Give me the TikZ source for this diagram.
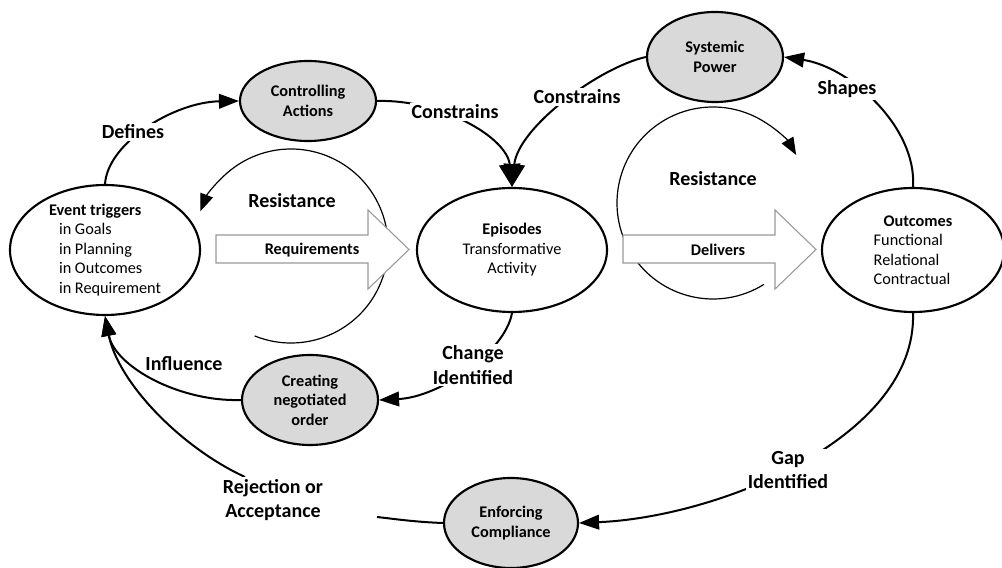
\documentclass[tikz,border=0pt]{standalone}
\usepackage{fontspec}
\setmainfont{Carlito}
\usetikzlibrary{shapes.geometric,arrows.meta}
\definecolor{blobgray}{RGB}{217,217,217}

\begin{document}
\begin{tikzpicture}[x=0.75pt,y=0.75pt,
  blob/.style={ellipse,draw,line width=1.6pt,inner sep=0pt,align=center,font=\fontsize{12.2}{14.6}\selectfont},
  grayblob/.style={blob,fill=blobgray,font=\bfseries\fontsize{12.2}{14.6}\selectfont},
  lbl/.style={fill=white,inner sep=1.5pt,align=center,font=\bfseries\fontsize{15}{18.5}\selectfont},
  conn/.style={line width=1.5pt,-{Triangle[length=15pt,width=11pt]}},
  bigconn/.style={line width=1.5pt,-{Triangle[length=17pt,width=16pt]}},
  resist/.style={line width=0.9pt,-{Triangle[length=13pt,width=10pt]}},
  block/.style={draw=gray!80,line width=0.8pt,fill=white}]

\useasboundingbox (0,0) rectangle (1002,567);

%% resistance loops
\coordinate (resL) at (291,321);
\coordinate (resR) at (713,364);
\draw[resist] (resL) ++(-112:97) arc[start angle=-112,end angle=159,radius=97];
\draw[resist] (resR) ++(-58:96) arc[start angle=-58,end angle=-330,radius=96];

%% block arrows
\draw[block] (216,304) -- (368,304) -- (368,278) -- (409,317.5) -- (368,357) -- (368,332) -- (216,332) -- cycle;
\node[font=\bfseries\fontsize{12.2}{14.6}\selectfont] (req) at (312,317) {Requirements};
\draw[block] (623,304) -- (775,304) -- (775,278) -- (816,317.5) -- (775,357) -- (775,332) -- (623,332) -- cycle;
\node[font=\bfseries\fontsize{12.2}{14.6}\selectfont] (del) at (718,317) {Delivers};

%% main ellipses
\node[blob,align=left,minimum width=142.5pt,minimum height=93pt] (evt) at (105,317)
  {\textbf{Event triggers}\\\hspace*{7.5pt}in Goals\\\hspace*{7.5pt}in Planning\\\hspace*{7.5pt}in Outcomes\\\hspace*{7.5pt}in Requirement};
\node[blob,minimum width=142.5pt,minimum height=93pt] (epi) at (512,317)
  {\textbf{Episodes}\\Transformative\\Activity};
\node[blob,align=left,minimum width=136.5pt,minimum height=93pt] (out) at (913,317)
  {\hspace*{7.5pt}\textbf{Outcomes}\\Functional\\Relational\\Contractual};

%% grey ellipses
\node[grayblob,minimum width=102pt,minimum height=60pt] (ctrl) at (308,466) {Controlling\\Actions};
\node[grayblob,minimum width=102pt,minimum height=67.5pt] (sys) at (715,510) {Systemic\\Power};
\node[grayblob,minimum width=102pt,minimum height=67.5pt] (neg) at (310,167) {Creating\\negotiated\\order};
\node[grayblob,minimum width=100.5pt,minimum height=67.5pt] (enf) at (511,44) {Enforcing\\Compliance};

%% connectors
\draw[conn] (evt.north) .. controls (108,425) and (175,465) .. (ctrl.west);
\draw[bigconn] (ctrl.east) .. controls (440,468) and (507,430) .. (epi.north);
\draw[bigconn] (sys.west) .. controls (600,500) and (518,440) .. (epi.north);
\draw[conn] (out.north) .. controls (917,440) and (850,500) .. (sys.east);
\draw[conn] (epi.south) .. controls (505,215) and (440,170) .. (neg.east);
\draw[conn] (neg.west) .. controls (180,165) and (115,200) .. (evt.south);
\draw[conn] (out.south) .. controls (917,130) and (720,50) .. (enf.east);

%% rejection path, broken at its label
\coordinate (rejR) at (377,50);
\coordinate (rejL) at (245,90);
\draw[line width=1.5pt] (enf.west) .. controls (415,45) and (395,48) .. (rejR);
\draw[conn] (rejL) .. controls (180,120) and (118,185) .. (evt.south);

%% labels
\node[lbl] (defines) at (133,435) {Defines};
\node[lbl] (conL) at (455,455) {Constrains};
\node[lbl] (conR) at (577,470) {Constrains};
\node[lbl] (shapes) at (847,478) {Shapes};
\node[lbl,fill=none] (resistL) at (292,366) {Resistance};
\node[lbl,fill=none] (resistR) at (713,388) {Resistance};
\node[lbl] (change) at (473,202) {Change\\Identified};
\node[lbl,fill=none] (influence) at (184,203) {Influence};
\node[lbl] (reject) at (273,67) {Rejection or\\Acceptance};
\node[lbl] (gap) at (788,97) {Gap\\Identified};

\end{tikzpicture}
\end{document}
